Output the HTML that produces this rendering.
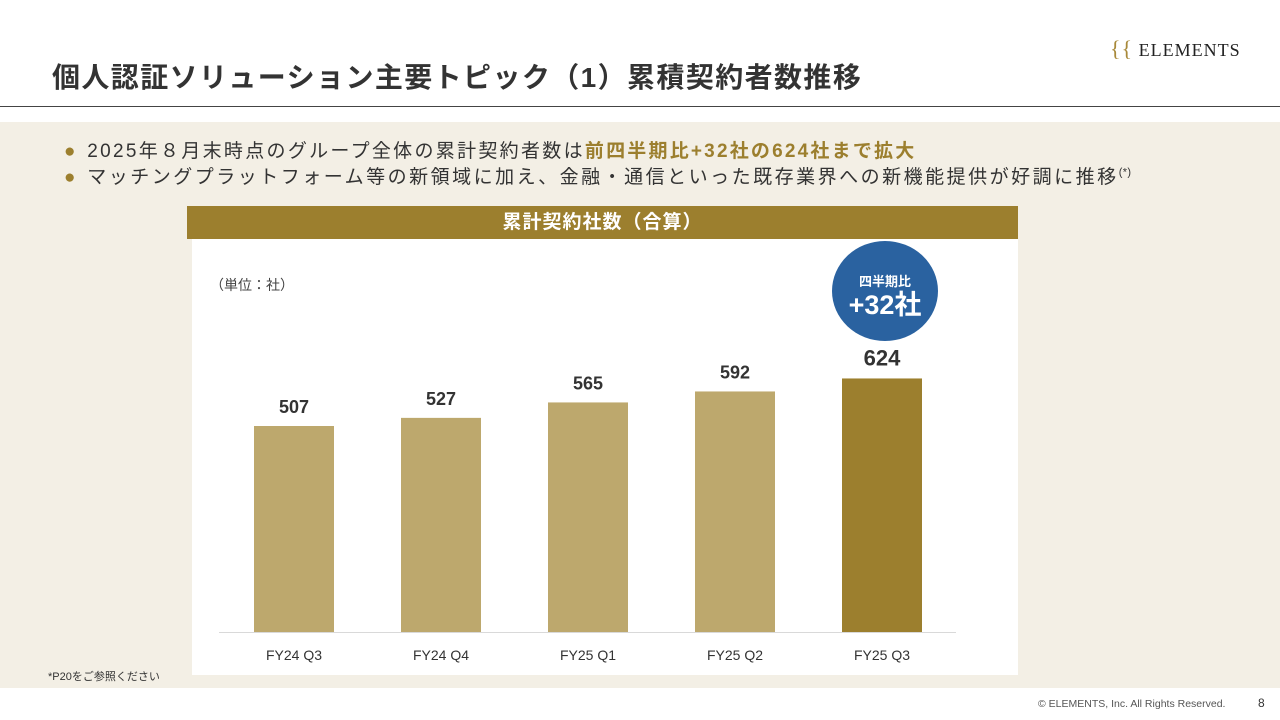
<!DOCTYPE html>
<html><head><meta charset="utf-8">
<style>
body{margin:0;width:1280px;height:720px;position:relative;background:#fff;font-family:"Liberation Sans","Noto Sans CJK JP",sans-serif;overflow:hidden;color:#333}
.abs{position:absolute;white-space:nowrap}
</style></head><body>
<div class="abs" style="left:52px;top:56px;font-size:28px;font-weight:bold;color:#333;letter-spacing:1.4px">個人認証ソリューション主要トピック（1）累積契約者数推移</div>
<div class="abs" style="left:1110px;top:36px;font-family:'Liberation Serif',serif;font-size:18px;color:#222;letter-spacing:1px"><span style="color:#a8893a;font-size:22px">{{</span> ELEMENTS</div>
<div class="abs" style="left:0;top:106px;width:1280px;height:1px;background:#444"></div>
<div class="abs" style="left:0;top:122px;width:1280px;height:566px;background:#f3efe5"></div>
<div class="abs" style="left:64px;top:136px;font-size:19px;color:#333;letter-spacing:0.4px"><span style="color:#9c7f2e">●</span>&nbsp; <span style="letter-spacing:2.3px">2025年８月末時点のグループ全体の累計契約者数は</span><b style="color:#9c7f2e;letter-spacing:2.2px">前四半期比+32社の624社まで拡大</b></div>
<div class="abs" style="left:64px;top:162px;font-size:19px;color:#333;letter-spacing:0.4px"><span style="color:#9c7f2e">●</span>&nbsp; <span style="letter-spacing:2.5px">マッチングプラットフォーム等の新領域に加え、金融・通信といった既存業界への新機能提供が好調に推移</span><sup style="font-size:11px">(*)</sup></div>
<div class="abs" style="left:187px;top:206px;width:831px;height:33px;background:#9c7f2e;color:#fff;font-size:19px;font-weight:bold;text-align:center;line-height:33px;letter-spacing:1px">累計契約社数（合算）</div>
<div class="abs" style="left:192px;top:239px;width:826px;height:436px;background:#fff"></div>
<div class="abs" style="left:210px;top:275px;font-size:14px;color:#444">（単位：社）</div>
<svg class="abs" style="left:0;top:0" width="1280" height="720" id="chart"></svg>
<div class="abs" style="left:832px;top:241px;width:106px;height:100px;border-radius:50%;background:#2a62a0;color:#fff;text-align:center">
<div style="font-size:13px;font-weight:bold;margin-top:30px">四半期比</div>
<div style="font-size:27px;font-weight:bold;line-height:30px">+32社</div></div>
<div class="abs" style="left:48px;top:668px;font-size:11px;color:#333">*P20をご参照ください</div>
<div class="abs" style="left:1038px;top:698px;font-size:10.5px;color:#555">© ELEMENTS, Inc. All Rights Reserved.</div>
<div class="abs" style="left:1258px;top:696px;font-size:12px;color:#333">8</div>
<script>
const categories=["FY24 Q3","FY24 Q4","FY25 Q1","FY25 Q2","FY25 Q3"];
const values=[507,527,565,592,624];
const svg=document.getElementById('chart');
const NS="http://www.w3.org/2000/svg";
const baseY=632, scale=206/507, x0=294, step=147, bw=80;
const y=v=>baseY-v*scale;
const xc=i=>x0+i*step;
function mk(t,a){const e=document.createElementNS(NS,t);for(const k in a)e.setAttribute(k,a[k]);svg.appendChild(e);return e;}
const ax=mk('line',{x1:219,x2:956,y1:baseY+0.5,y2:baseY+0.5,stroke:'#d9d9d9','stroke-width':1});


values.forEach((v,i)=>{
  const last=i===values.length-1;
  const r=mk('rect',{x:xc(i)-bw/2,y:y(v),width:bw,height:baseY-y(v),fill:last?'#9c7f2e':'#bda86d'});
  
  
  const t=mk('text',{x:xc(i),y:y(v)-13,'text-anchor':'middle','font-size':last?22:18,'font-weight':'bold',fill:'#333'});
  t.textContent=v;
  
  
  const c=mk('text',{x:xc(i),y:660,'text-anchor':'middle','font-size':14,fill:'#333'});
  c.textContent=categories[i];
  
  
});
</script>
</body></html>
